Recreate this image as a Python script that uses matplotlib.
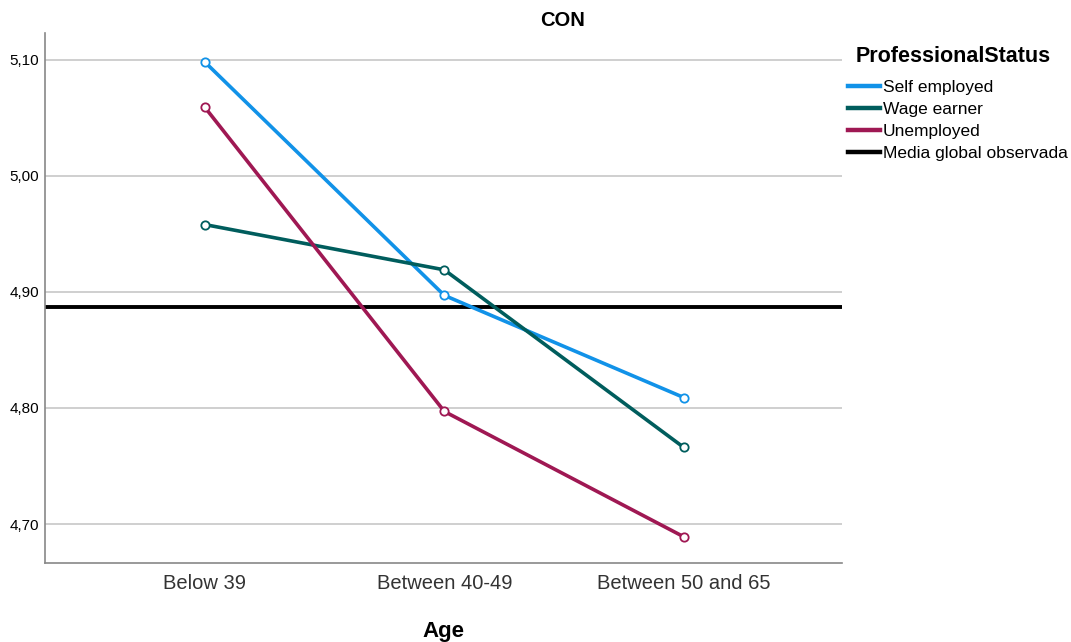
import matplotlib.pyplot as plt
from matplotlib.lines import Line2D
from matplotlib.ticker import FuncFormatter

plt.rcParams['font.family'] = ['Liberation Sans', 'DejaVu Sans']

age_groups = ["Below 39", "Between 40-49", "Between 50 and 65"]
self_employed = [5.098, 4.897, 4.809]
wage_earner = [4.958, 4.919, 4.766]
unemployed = [5.059, 4.797, 4.689]
global_mean = 4.887
y_ticks = [4.70, 4.80, 4.90, 5.00, 5.10]

series = [
    ("Self employed", self_employed, "#1192e8"),
    ("Wage earner", wage_earner, "#005d5d"),
    ("Unemployed", unemployed, "#9f1853"),
]

fig = plt.figure(figsize=(10.71, 6.42), dpi=100)
ax = fig.add_axes([0.042, 0.123, 0.744, 0.826])

xs = range(len(age_groups))
for name, vals, col in series:
    ax.plot(xs, vals, color=col, lw=2.6, marker="o", ms=6, mfc="white",
            mec=col, mew=1.3, zorder=3)
ax.axhline(global_mean, color="black", lw=2.8, zorder=2)

ax.set_xlim(-0.668, 2.66)
ax.set_ylim(4.6664, 5.1233)
ax.set_yticks(y_ticks)
ax.yaxis.set_major_formatter(FuncFormatter(lambda v, p: f"{v:.2f}".replace(".", ",")))
ax.set_xticks(list(xs))
ax.set_xticklabels(age_groups, fontsize=14.5, color="#333333")
ax.tick_params(axis="y", length=0, labelsize=11, pad=4)
ax.tick_params(axis="x", length=0, pad=8)
ax.grid(axis="y", color="#cccccc", lw=1.3, zorder=0)
for s in ["top", "right"]:
    ax.spines[s].set_visible(False)
for s in ["left", "bottom"]:
    ax.spines[s].set_color("#888888")
    ax.spines[s].set_linewidth(1.2)

ax.set_title("CON", fontsize=14.5, fontweight="bold", pad=5, x=0.649)
ax.set_xlabel("Age", fontsize=16, fontweight="bold", labelpad=20)

# legend title placed on its own to get the wider gap seen in the original
fig.text(0.89, 1 - 56 / 642, "ProfessionalStatus", fontsize=15.5,
         fontweight="bold", ha="center", va="center")

handles = [Line2D([0], [0], color=c, lw=3.2) for _, _, c in series]
handles.append(Line2D([0], [0], color="black", lw=3.2))
labels = [n for n, _, _ in series] + ["Media global observada"]
leg = fig.legend(handles, labels, loc="upper left",
                 bbox_to_anchor=(0.7915, 0.876), frameon=False, fontsize=12.5,
                 handlelength=1.85, handletextpad=0.17, labelspacing=0.4,
                 borderpad=0, borderaxespad=0)

fig.savefig("out.png", dpi=100)
